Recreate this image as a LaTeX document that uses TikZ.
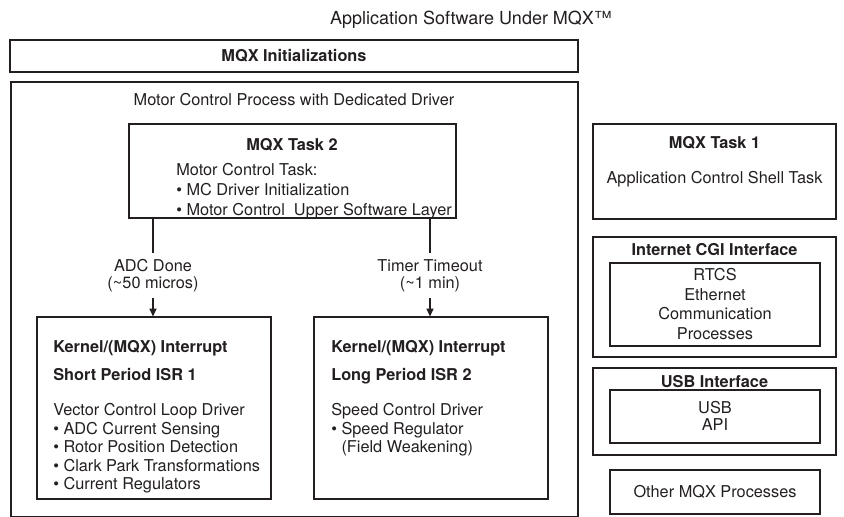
\documentclass[tikz,border=0pt]{standalone}
\usepackage{fontspec}
\setmainfont{TeX Gyre Heros}
\usetikzlibrary{arrows.meta, positioning, fit}
\definecolor{inkblack}{HTML}{231F20}

\begin{document}
\begin{tikzpicture}[x=0.025cm, y=-0.025cm,
    thinbox/.style={draw=inkblack, line width=0.8pt, inner sep=0pt},
    thickbox/.style={draw=inkblack, line width=1.9pt, inner sep=0pt},
    txt/.style={font=\fontsize{11.6}{14.2}\selectfont, text=inkblack, inner sep=0pt},
    boldtxt/.style={txt, font=\fontsize{11.6}{14.2}\selectfont\bfseries},
    sigline/.style={draw=inkblack, line width=0.8pt},
    sigarrow/.style={sigline, -{Triangle[length=5.5pt, width=5pt]}}]
  \useasboundingbox (0,0) rectangle (844,517);

  % Title
  \node[txt, font=\fontsize{12.8}{15}\selectfont, anchor=base] (title) at (471,24.5) {Application Software Under MQX\texttrademark};

  % MQX initializations
  \node[thinbox, fit={(10,40) (578,72)}] (init) {};
  \node[boldtxt, anchor=base] (inithead) at (294,62) {MQX Initializations};

  % Motor control process
  \node[thickbox, fit={(11,82) (578,517.5)}] (mcproc) {};
  \node[txt, anchor=base] (mctitle) at (294,106) {Motor Control Process with Dedicated Driver};

  % MQX task 2
  \node[thinbox, fit={(129,124) (456,218)}] (task2) {};
  \node[boldtxt, anchor=base] (task2head) at (292,151) {MQX Task 2};
  \node[txt, align=left, anchor=north west] (task2body) at (176,163)
    {Motor Control Task:\\ \textbullet\ MC Driver Initialization\\ \textbullet\ Motor Control\ \ Upper Software Layer};

  % Interrupt service routines
  \node[thinbox, fit={(37,317) (271,499)}] (isr1) {};
  \node[thinbox, fit={(314,317) (548,499)}] (isr2) {};
  \node[boldtxt, font=\fontsize{11.6}{20.3}\selectfont\bfseries, align=left, anchor=north west] (isr1head) at (53,340)
    {Kernel/(MQX) Interrupt\\Short Period ISR 1};
  \node[txt, font=\fontsize{11.6}{13.2}\selectfont, align=left, anchor=north west] (isr1body) at (53,403)
    {Vector Control Loop Driver\\ \textbullet\ ADC Current Sensing\\ \textbullet\ Rotor Position Detection\\ \textbullet\ Clark Park Transformations\\ \textbullet\ Current Regulators};
  \node[boldtxt, font=\fontsize{11.6}{20.3}\selectfont\bfseries, align=left, anchor=north west] (isr2head) at (331,340)
    {Kernel/(MQX) Interrupt\\Long Period ISR 2};
  \node[txt, font=\fontsize{11.6}{13.2}\selectfont, align=left, anchor=north west] (isr2body) at (331,403)
    {Speed Control Driver\\ \textbullet\ Speed Regulator\\ \phantom{\textbullet\ }(Field Weakening)};

  % Trigger signals
  \node[txt, font=\fontsize{11.6}{11.8}\selectfont, align=center, inner ysep=4.5pt] (adc) at (153,275.5)
    {ADC Done\\(\textasciitilde50 micros)};
  \node[txt, font=\fontsize{11.6}{11.8}\selectfont, align=center, inner ysep=4.5pt] (timer) at (430,275.5)
    {Timer Timeout\\(\textasciitilde1 min)};
  \draw[sigline] (task2.south -| adc) -- (adc.north);
  \draw[sigarrow] (adc.south) -- (adc.south |- isr1.north);
  \draw[sigline] (task2.south -| timer) -- (timer.north);
  \draw[sigarrow] (timer.south) -- (timer.south |- isr2.north);

  % MQX task 1
  \node[thinbox, fit={(593,124) (836,219)}] (task1) {};
  \node[boldtxt, anchor=base] (task1head) at (714.5,149) {MQX Task 1};
  \node[txt, anchor=base] (task1body) at (714.5,184) {Application Control Shell Task};

  % Internet CGI interface
  \node[thickbox, fit={(593,237) (836,357)}] (cgi) {};
  \node[boldtxt, anchor=base] (cgihead) at (714.5,256) {Internet CGI Interface};
  \node[thinbox, fit={(610,263) (820,346)}] (rtcs) {};
  \node[txt, font=\fontsize{11.6}{14}\selectfont, align=center, anchor=north] (rtcstext) at (715,268)
    {RTCS\\Ethernet\\Communication\\Processes};

  % USB interface
  \node[thickbox, fit={(593,368) (836,455)}] (usb) {};
  \node[boldtxt, anchor=base] (usbhead) at (714.5,388) {USB Interface};
  \node[thinbox, fit={(610,390) (820,443)}] (usbapi) {};
  \node[txt, font=\fontsize{11.6}{12.1}\selectfont, align=center, anchor=north] (usbtext) at (715,401) {USB\\API};

  % Other processes
  \node[thinbox, fit={(610,470) (820,514)}] (other) {};
  \node[txt, anchor=base] (othertext) at (715,498) {Other MQX Processes};
\end{tikzpicture}
\end{document}
